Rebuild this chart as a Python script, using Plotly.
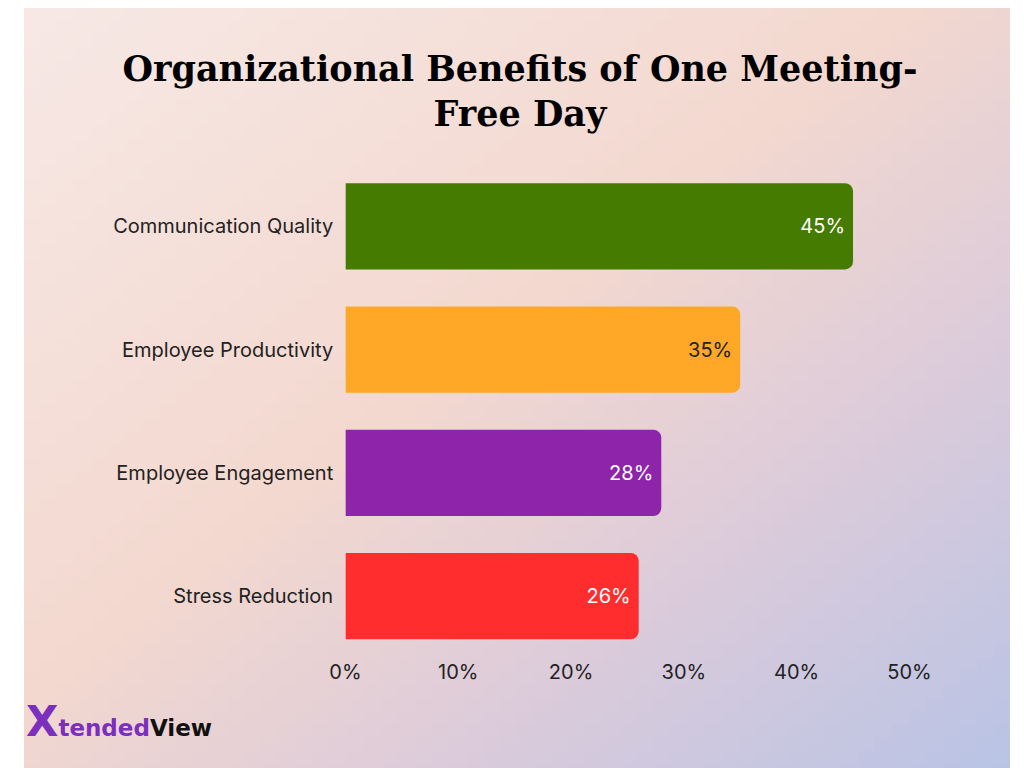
import numpy as np
import plotly.graph_objects as go

categories = ["Communication Quality", "Employee Productivity", "Employee Engagement", "Stress Reduction"]
values = [45, 35, 28, 26]
colors = ["#457b00", "#ffa726", "#8e24aa", "#ff2d2d"]
text_colors = ["white", "#222222", "white", "white"]
tick_vals = [0, 10, 20, 30, 40, 50]

W, H = 1024, 768

fig = go.Figure()

# background gradient on a hidden full-page axis (drawn first, under the bars)
gx = np.linspace(0, 1, 60)
gy = np.linspace(0, 1, 60)
gz = np.add.outer((1 - gy), gx) / 2  # top-left pink -> bottom-right lavender
fig.add_trace(go.Heatmap(
    z=gz, x=gx, y=gy, xaxis="x", yaxis="y", showscale=False, hoverinfo="skip",
    colorscale=[[0, "#f7e9e6"], [0.45, "#f3d8cf"], [0.7, "#dccbda"], [1, "#b7c3e6"]],
))

fig.add_trace(go.Bar(
    x=values, y=categories, orientation="h", xaxis="x2", yaxis="y2",
    marker=dict(color=colors, line=dict(width=0)),
    text=[f"{v}%" for v in values], textposition="inside", insidetextanchor="end",
    textfont=dict(color=text_colors, size=20, family="Inter"),
    width=0.7,
))

fig.update_layout(
    width=W, height=H,
    margin=dict(l=0, r=0, t=0, b=0),
    paper_bgcolor="white", plot_bgcolor="rgba(0,0,0,0)",
    barcornerradius=8, showlegend=False,
    title=dict(text="Organizational Benefits of One Meeting-<br>Free Day",
               x=0.5, xanchor="center", y=0.905, yanchor="top",
               font=dict(family="DejaVu Serif", size=35, color="black", weight="bold")),
    xaxis=dict(domain=[0, 1], range=[0.01, 0.99], visible=False),
    yaxis=dict(domain=[0, 1], range=[0.01, 0.99], visible=False),
    xaxis2=dict(domain=[0.326, 0.898], range=[0, 50], tickvals=tick_vals,
                ticktext=[f"{t}%" for t in tick_vals],
                showgrid=False, zeroline=False, showline=False, anchor="y2",
                tickfont=dict(family="Inter", size=20, color="#222222")),
    yaxis2=dict(domain=[0.154, 0.796], autorange="reversed", showgrid=False,
                ticksuffix="  ", anchor="x2",
                tickfont=dict(family="Inter", size=20, color="#222222")),
)

fig.add_annotation(
    xref="paper", yref="paper", x=0.0, y=55 / H,
    xanchor="left", yanchor="middle", showarrow=False,
    text="<span style='color:#7b2fbe;font-size:42px'><b>X</b></span>"
         "<span style='color:#7b2fbe'><b>tended</b></span><span style='color:#111'><b>View</b></span>",
    font=dict(family="DejaVu Sans", size=23),
)

fig.write_html("out.html")
